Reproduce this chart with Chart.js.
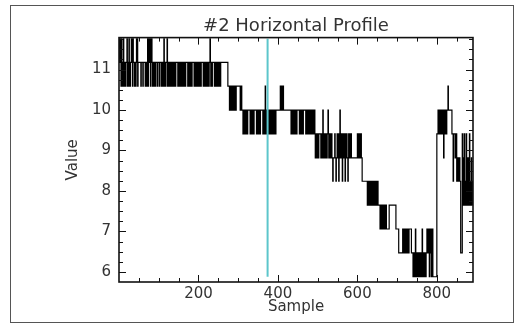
<!DOCTYPE html>
<html>
<head>
<meta charset="utf-8">
<script src="https://cdn.jsdelivr.net/npm/chart.js@4.4.0/dist/chart.umd.min.js"></script>
<style>
  html, body { margin: 0; padding: 0; background: #fff; }
  #wrap { position: relative; width: 525px; height: 324px; }
  #frame { position: absolute; left: 10px; top: 5px; width: 502px; height: 316px; border: 1px solid #555; }
  canvas { position: absolute; left: 0; top: 0; }
</style>
</head>
<body>
<div id="wrap"><div id="frame"></div><canvas id="myChart" width="525" height="324"></canvas></div>
<script>
const chartTitle = '#2 Horizontal Profile';
const xTicks = [200, 400, 600, 800];
const yTicks = [6, 7, 8, 9, 10, 11];
const xMinorStep = 50;
const yMinorStep = 0.25;
const cursorLine = [[374, 5.88], [374, 11.76]];

// profile as [sample, value], each value holds until the next sample
const plateauPts = [
   [0,11.18],[1,11.76],[3,11.18],[4,11.76],[5,10.59],[6,11.76],[7,11.18],[8,10.59],[10,11.18],[11,11.76],[12,10.59],[13,11.18],
   [16,10.59],[17,11.18],[20,11.76],[21,10.59],[22,11.18],[24,10.59],[25,11.76],[26,11.18],[28,10.59],[29,11.18],[31,11.76],[32,11.18],
   [34,10.59],[35,11.76],[36,11.18],[39,10.59],[40,11.18],[42,10.59],[43,11.18],[44,11.76],[45,11.18],[46,11.76],[47,10.59],[48,11.18],
   [55,10.59],[56,11.18],[60,10.59],[61,11.18],[66,10.59],[67,11.18],[69,10.59],[71,11.18],[72,11.76],[73,10.59],[74,11.18],[75,11.76],
   [76,11.18],[78,11.76],[79,10.59],[80,11.76],[81,11.18],[82,11.76],[83,11.18],[84,10.59],[85,11.18],[86,10.59],[88,11.18],[89,10.59],
   [90,11.18],[92,10.59],[93,11.18],[97,10.59],[98,11.18],[102,10.59],[103,11.18],[107,10.59],[108,11.18],[110,10.59],[111,11.18],
   [113,11.76],[114,10.59],[115,11.18],[117,10.59],[118,11.18],[121,11.76],[122,10.59],[123,11.18],[126,10.59],[127,11.18],
   [130,10.59],[131,11.18],[132,10.59],[134,11.18],[137,10.59],[138,11.18],[139,10.59],[141,11.18],[142,10.59],[143,11.18],
   [148,10.59],[150,11.18],[153,10.59],[154,11.18],[155,10.59],[157,11.18],[158,10.59],[159,11.18],
   [162,10.59],[163,11.18],[164,10.59],[166,11.18],[167,10.59],[168,11.18],
   [173,10.59],[174,11.18],[177,10.59],[178,11.18],[180,10.59],[181,11.18],[182,10.59],[184,11.18],
   [189,10.59],[191,11.18],[193,10.59],[194,11.18],[196,10.59],[197,11.18],
   [200,10.59],[201,11.18],[203,10.59],[204,11.18],[205,10.59],[207,11.18],[212,10.59],[214,11.18],
   [216,10.59],[217,11.18],[218,10.59],[220,11.18],[223,10.59],[224,11.18],[225,10.59],[227,11.18],
   [229,11.76],[230,11.18],[231,10.59],[232,11.18],[234,10.59],[235,11.18],[240,10.59],[242,11.18],
   [244,10.59],[245,11.18],[246,10.59],[247,11.18],[250,10.59],[251,11.18],[252,10.59],[253,11.18],[255,10.59],[256,11.18]
];

const descentPts = [
   [274,10.59],[278,10],[279,10.59],[280,10],[282,10.59],[283,10],[284,10.59],[286,10],[287,10.59],[288,10],[290,10.59],[291,10],
   [292,10.59],[293,10],[295,10.59],[305,10],[306,10.59],[309,10],
   [312,9.41],[313,10],[316,9.41],[317,10],[318,9.41],[320,10],[323,9.41],[324,10],
   [330,9.41],[332,10],[333,9.41],[334,10],[336,9.41],[338,10],[339,9.41],[340,10],
   [346,9.41],[347,10],[348,9.41],[350,10],[352,9.41],[353,10],[354,9.41],[356,10],
   [362,9.41],[364,10],[367,9.41],[368,10.59],[369,10],[370,9.41],[372,10],[374,9.41],[377,10],[378,9.41],
   [380,10],[381,9.41],[384,10],[385,9.41],[386,10],[387,9.41],[390,10],[391,9.41],[393,10],[394,9.41],[395,10],
   [406,10.59],[407,10],[409,10.59],[410,10],[413,10.59],[414,10],
   [433,9.41],[434,10],[436,9.41],[437,10],[438,9.41],[440,10],[443,9.41],[444,10],[446,9.41],[448,10],
   [454,9.41],[456,10],[457,9.41],[458,10],[461,9.41],[462,10],[463,9.41],[464,10],
   [470,9.41],[471,10],[472,9.41],[473,10],[476,9.41],[477,10],[478,9.41],[480,10],[481,9.41],[482,10],
   [485,9.41],[486,10],[487,9.41],[489,10],[491,9.41],[492,10],[493,9.41],
   [494,8.82],[495,9.41],[496,8.82],[498,9.41],[499,8.82],[500,9.41],[502,8.82],[503,9.41],
   [508,8.82],[509,9.41],[510,8.82],[512,9.41],[513,10],[514,9.41],[515,8.82],[516,9.41],[517,8.82],[519,9.41],[520,8.82],
   [521,9.41],[523,8.82],[524,9.41],[526,10],[527,9.41],[528,8.82],[529,9.41],[530,8.82],[532,9.41],[533,8.82],[534,9.41],[536,8.82],
   [538,8.24],[539,8.82],[543,9.41],[544,8.82],[546,8.24],[547,8.82],[549,9.41],[550,8.82],[551,9.41],[552,8.82],[553,8.24],
   [554,8.82],[555,9.41],[556,10],[557,9.41],[558,8.82],[559,9.41],[561,8.82],[562,8.24],[563,8.82],[564,9.41],[565,8.82],
   [567,9.41],[568,8.82],[569,8.24],[570,9.41],[572,8.82],[573,9.41],[574,8.82],[576,8.24],[577,8.82],[578,9.41],[580,8.82],
   [581,9.41],[582,8.82],[584,9.41],[585,8.82],
   [600,9.41],[601,8.82],[602,9.41],[604,8.82],[605,9.41],[607,8.82],[608,9.41],[610,8.82]
];

const troughPts = [
   [612,8.24],[625,7.65],[626,8.24],[627,7.65],[629,8.24],[630,7.65],[631,8.24],[633,7.65],[634,8.24],[635,7.65],[637,8.24],
   [638,7.65],[640,8.24],[641,7.65],[643,8.24],[644,7.65],[645,8.24],[647,7.65],[648,8.24],[649,7.65],[651,8.24],[652,7.65],
   [657,7.06],[658,7.65],[659,7.06],[661,7.65],[662,7.06],[663,7.65],[665,7.06],[666,7.65],[667,7.06],[669,7.65],[670,7.06],
   [672,7.65],[673,7.06],
   [680,7.65],[697,7.06],[704,6.47],[714,7.06],[715,6.47],[716,7.06],[718,6.47],[719,7.06],[720,6.47],[722,7.06],[723,6.47],
   [724,7.06],[726,6.47],[728,7.06],[729,6.47],[730,7.06],[736,6.47],
   [740,5.88],[741,6.47],[742,5.88],[744,6.47],[745,5.88],[746,7.06],[747,6.47],[748,5.88],[750,6.47],[751,5.88],
   [754,6.47],[755,5.88],[756,6.47],[758,5.88],[759,6.47],[760,5.88],[762,6.47],[763,7.06],[764,6.47],[765,5.88],[767,6.47],
   [768,5.88],[771,6.47],[772,5.88],[773,6.47],[775,7.06],[776,6.47],[777,7.06],[779,6.47],[780,7.06],[781,5.88],[782,7.06],
   [784,6.47],[785,7.06],[786,5.88],[787,6.47],[788,7.06],[790,5.88]
];

const recoveryPts = [
   [800,9.41],[803,10],[805,9.41],[806,10],[808,9.41],[809,10],[810,9.41],[812,10],[813,9.41],[814,10],[816,9.41],[817,8.82],
   [818,9.41],[819,10],[820,9.41],[822,10],[823,9.41],[825,10],[828,10.59],[829,10],
   [838,9.41],[841,8.24],[842,9.41],[846,8.82],[847,9.41],[850,8.24],[852,8.82],[854,8.24],[857,8.82],[858,8.24],[860,6.47],
   [864,9.41],[865,8.24],[866,8.82],[867,7.65],[868,8.24],[869,9.41],[870,7.65],[871,8.24],[872,7.65],[874,9.41],[875,7.65],
   [876,8.24],[877,7.65],[878,8.82],[879,7.65],[880,8.24],[881,7.65],[882,9.41],[883,8.24],[884,7.65],[885,8.24],[886,7.65],
   [887,8.82],[888,7.65],[889,8.24],[890,7.65]
];

const profilePts = plateauPts.concat(descentPts, troughPts, recoveryPts);

const fontFamily = "'DejaVu Sans', sans-serif";
const textColor = '#333';
const majorLen = 7;
const minorLen = 4;

// IDL style box with inward ticks on all four sides
const idlFrame = {
   id: 'idlFrame',
   afterDatasetsDraw(chart) {
      const { ctx, chartArea: a, scales: { x, y } } = chart;
      ctx.save();
      ctx.strokeStyle = '#111';
      ctx.lineWidth = 1;
      ctx.beginPath();
      for (let k = 1; k * xMinorStep < x.max; k++) {
         const v = k * xMinorStep;
         const px = Math.round(x.getPixelForValue(v)) + 0.5;
         const len = xTicks.includes(v) ? majorLen : minorLen;
         ctx.moveTo(px, a.bottom); ctx.lineTo(px, a.bottom - len);
         ctx.moveTo(px, a.top); ctx.lineTo(px, a.top + len);
      }
      for (let k = Math.ceil(y.min / yMinorStep); k * yMinorStep < y.max; k++) {
         const v = k * yMinorStep;
         if (v <= y.min) continue;
         const py = Math.round(y.getPixelForValue(v)) + 0.5;
         const len = yTicks.includes(v) ? majorLen : minorLen;
         ctx.moveTo(a.left, py); ctx.lineTo(a.left + len, py);
         ctx.moveTo(a.right, py); ctx.lineTo(a.right - len, py);
      }
      ctx.stroke();
      ctx.lineWidth = 1.6;
      ctx.strokeRect(a.left, a.top, a.right - a.left, a.bottom - a.top);
      ctx.restore();
   }
};

const ctx = document.getElementById('myChart').getContext('2d');
const myChart = new Chart(ctx, {
   type: 'line',
   data: {
      datasets: [{
         label: 'cursor',
         data: cursorLine,
         borderColor: '#5cc6cb',
         borderWidth: 2,
         pointRadius: 0
      }, {
         label: 'profile',
         data: profilePts,
         borderColor: '#000',
         borderWidth: 1.2,
         pointRadius: 0,
         stepped: true
      }]
   },
   options: {
      responsive: false,
      animation: false,
      layout: { padding: { top: 0, right: 52, bottom: 0, left: 0 } },
      plugins: {
         legend: { display: false },
         tooltip: { enabled: false },
         title: {
            display: true,
            fullSize: false,
            text: chartTitle,
            color: textColor,
            font: { family: fontFamily, size: 18, weight: 'normal' },
            padding: { top: 16, bottom: 0 }
         }
      },
      scales: {
         x: {
            type: 'linear',
            min: 0,
            max: 891,
            afterBuildTicks: (s) => { s.ticks = xTicks.map(v => ({ value: v })); },
            afterFit: (s) => { s.height = 42; },
            grid: { display: false, drawTicks: false },
            border: { display: false },
            ticks: { color: textColor, font: { family: fontFamily, size: 15 }, padding: 3, maxRotation: 0, autoSkip: false },
            title: { display: true, text: 'Sample', color: textColor, font: { family: fontFamily, size: 15 }, padding: { top: 0, bottom: 8 } }
         },
         y: {
            type: 'linear',
            min: 5.75,
            max: 11.79,
            afterBuildTicks: (s) => { s.ticks = yTicks.map(v => ({ value: v })); },
            afterFit: (s) => { s.width = 119; },
            grid: { display: false, drawTicks: false },
            border: { display: false },
            ticks: { color: textColor, font: { family: fontFamily, size: 15 }, padding: 8 },
            title: { display: true, text: 'Value', color: textColor, font: { family: fontFamily, size: 15 }, padding: { top: 64, bottom: 0 } }
         }
      }
   },
   plugins: [idlFrame]
});
</script>
</body>
</html>
